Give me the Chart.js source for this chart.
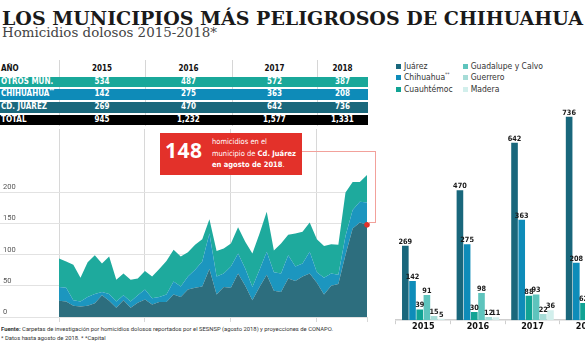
<!DOCTYPE html>
<html lang="es">
<head>
<meta charset="utf-8">
<title>Los municipios más peligrosos de Chihuahua</title>
<script src="https://cdn.jsdelivr.net/npm/chart.js@4.4.1/dist/chart.umd.min.js"></script>
<style>
  html, body { margin: 0; padding: 0; background: #fff; }
  body { width: 585px; height: 343px; overflow: hidden; position: relative; font-family: Roboto, sans-serif; }
  .abs { position: absolute; white-space: nowrap; }
  canvas { display: block; }
  #titulo { left: 2px; top: 9.5px; font: bold 18.3px/18.3px "DejaVu Serif", serif; color: #1a1a1a; transform-origin: 0 0; }
  #subtitulo { left: 2px; top: 26.7px; font: 12.5px/12.5px "DejaVu Serif", serif; color: #444; transform-origin: 0 0; }
  .celda { position: absolute; white-space: nowrap; font-weight: bold; font-size: 8px; }
  .leyenda { position: absolute; white-space: nowrap; font-size: 8.5px; line-height: 11px; color: #333; }
  .leyenda i { display: inline-block; width: 5px; height: 5px; margin-right: 3px; vertical-align: 0px; }
  #nota { left: 160px; top: 133px; width: 142px; height: 42px; background: #e3312a; }
  #nota148 { left: 5px; top: 7px; font: bold 21px/21px "Open Sans", sans-serif; color: #fff; letter-spacing: 0.5px; }
  #notaTexto { left: 52px; top: 3px; font-size: 7.5px; line-height: 11.5px; color: #fff; }
  .conector { position: absolute; border-color: #f2a19b; border-style: solid; border-width: 0; }
  #fuente { left: 1px; top: 323.5px; font-size: 6px; line-height: 9.6px; color: #333; transform-origin: 0 0; }
  sup { font-size: 60%; line-height: 0; }
</style>
</head>
<body>
<div id="titulo" class="abs">LOS MUNICIPIOS MÁS PELIGROSOS DE CHIHUAHUA</div>
<div id="subtitulo" class="abs">Homicidios dolosos 2015-2018*</div>
<div id="tabla"></div>

<div class="abs" style="left:0;top:125px"><canvas id="areas" width="372" height="197"></canvas></div>
<div class="abs" style="left:380px;top:95px"><canvas id="barras" width="240" height="234"></canvas></div>
<div id="leyenda"></div>

<div class="conector" style="left:302px;top:151px;width:74px;border-top-width:1px"></div>
<div class="conector" style="left:375px;top:151px;height:71px;border-left-width:1px"></div>
<div class="conector" style="left:368px;top:222px;width:8px;border-top-width:1px"></div>

<div id="nota" class="abs">
  <div id="nota148" class="abs">148</div>
  <div id="notaTexto" class="abs">homicidios en el<br>municipio de <b>Cd. Juárez</b><br><b>en agosto de 2018</b>.</div>
</div>

<div id="fuente" class="abs"><b>Fuente:</b> Carpetas de investigación por homicidios dolosos reportados por el SESNSP (agosto 2018) y proyecciones de CONAPO.<br>* Datos hasta agosto de 2018. * *Capital</div>

<script>
// Datos
const anios = ['2015', '2016', '2017', '2018'];
const mesesCortos = ['ene', 'feb', 'mar', 'abr', 'may', 'jun', 'jul', 'ago', 'sep', 'oct', 'nov', 'dic'];

const juarezMensual = [
  26, 25, 18, 17, 18, 22, 35, 26, 15, 27, 15, 23,
  28, 20, 24, 24, 36, 32, 44, 47, 49, 77, 36, 48,
  47, 70, 50, 27, 48, 68, 42, 40, 62, 58, 65, 70,
  55, 36, 50, 53, 100, 142, 152, 148
];
const chihuahuaMensual = [
  22, 22, 9, 8, 14, 15, 5, 11, 10, 8, 10, 12,
  16, 10, 8, 12, 21, 17, 21, 29, 40, 57, 29, 22,
  34, 32, 28, 21, 28, 37, 30, 30, 37, 23, 21, 35,
  17, 27, 20, 15, 30, 30, 33, 36
];
const otrosMensual = [
  46, 42, 57, 38, 56, 62, 46, 60, 35, 35, 35, 27,
  30, 35, 45, 54, 51, 48, 39, 40, 36, 23, 41, 40,
  37, 42, 43, 54, 58, 64, 35, 48, 33, 53, 51, 47,
  53, 51, 47, 48, 70, 45, 32, 44
];
const ticksAreas = [0, 50, 100, 150, 200];

// tabla anual
const otrosAnual = [534, 487, 572, 387];
const chihuahuaAnual = [142, 275, 363, 208];
const juarezAnual = [269, 470, 642, 736];
const totalAnual = [945, 1232, 1577, 1331];

// barras por municipio
const municipios = ['Juárez', 'Chihuahua**', 'Cuauhtémoc', 'Guadalupe y Calvo', 'Guerrero', 'Madera'];
const cuauhtemocAnual = [39, 30, 88, 62];
const guadalupeAnual = [91, 98, 93, 45];
const guerreroAnual = [15, 12, 22, 12];
const maderaAnual = [5, 11, 36, 18];

const COND = '"Liberation Sans Narrow", "DejaVu Sans Condensed", "Roboto Condensed", "Arial Narrow", sans-serif';
const coloresBarras = ['#19677c', '#0e8cb9', '#11a394', '#5ec4bd', '#a6dcd7', '#d2efec'];

// Ajuste de anchos de textos
function ajustarAncho(el, ancho) {
  const w = el.getBoundingClientRect().width;
  el.style.transform = 'scaleX(' + (ancho / w) + ')';
}
ajustarAncho(document.getElementById('titulo'), 581);
ajustarAncho(document.getElementById('subtitulo'), 215);
document.getElementById('notaTexto').style.fontFamily = COND;

// Tabla
const tabla = document.getElementById('tabla');
const bordes = [0, 59, 145, 232, 317, 368];
function celda(html, x, y, w, h, estilo) {
  const d = document.createElement('div');
  d.className = 'celda';
  d.innerHTML = html;
  Object.assign(d.style, { left: x + 'px', top: y + 'px', width: w + 'px', height: h + 'px', lineHeight: h + 'px', fontFamily: COND }, estilo);
  tabla.appendChild(d);
  return d;
}
celda('AÑO', 1, 61, 58, 15, { color: '#111' });
anios.forEach((a, i) => {
  celda(a, bordes[i + 1], 61, bordes[i + 2] - bordes[i + 1], 15, { color: '#111', textAlign: 'center' });
});
for (let i = 1; i <= 4; i++) {
  const linea = document.createElement('div');
  Object.assign(linea.style, { position: 'absolute', left: bordes[i] + 'px', top: '60px', width: '1px', height: '66px', background: '#d6d6d6' });
  tabla.appendChild(linea);
}
const filas = [
  { nombre: 'OTROS MUN.', valores: otrosAnual, color: '#19a89a' },
  { nombre: 'CHIHUAHUA<sup>**</sup>', valores: chihuahuaAnual, color: '#0e8bb8' },
  { nombre: 'CD. JUÁREZ', valores: juarezAnual, color: '#1a687c' },
  { nombre: 'TOTAL', valores: totalAnual, color: '#000' }
];
filas.forEach((f, r) => {
  const y = 76.5 + r * 12.8;
  celda('', 0, y, 368, 10.5, { background: f.color });
  celda(f.nombre, 1, y, 58, 10.5, { color: '#fff' });
  f.valores.forEach((v, i) => {
    celda(v.toLocaleString('en-US'), bordes[i + 1], y, bordes[i + 2] - bordes[i + 1], 10.5, { color: '#fff', textAlign: 'center' });
  });
});

// Leyenda
const leyenda = document.getElementById('leyenda');
municipios.forEach((m, i) => {
  const d = document.createElement('div');
  d.className = 'leyenda';
  d.style.fontFamily = COND;
  d.style.left = (i < 3 ? 396 : 462.7) + 'px';
  d.style.top = (60.5 + (i % 3) * 11.6) + 'px';
  d.innerHTML = '<i style="background:' + coloresBarras[i] + '"></i>' + m.replace('**', '<sup>**</sup>');
  leyenda.appendChild(d);
});

// Grafico de areas
const meses = anios.flatMap(a => mesesCortos.map(m => m + ' ' + a)).slice(0, juarezMensual.length);
const transparente = 'rgba(0,0,0,0)';
const colorRejilla = c => (c.index % 12 === 0 ? '#d8d8d8' : transparente);

new Chart(document.getElementById('areas'), {
  type: 'line',
  data: {
    labels: meses,
    datasets: [
      {
        label: 'Cd. Juárez', data: juarezMensual, fill: 'origin', clip: false,
        backgroundColor: '#2d6e7e', borderColor: transparente, borderWidth: 0,
        pointRadius: c => (c.dataIndex === juarezMensual.length - 1 ? 2.8 : 0),
        pointBackgroundColor: '#e3312a', pointBorderWidth: 0
      },
      { label: 'Chihuahua', data: chihuahuaMensual, fill: '-1', backgroundColor: '#1c96bf', borderColor: transparente, borderWidth: 0, pointRadius: 0 },
      { label: 'Otros mun.', data: otrosMensual, fill: '-1', backgroundColor: '#1eaa9d', borderColor: transparente, borderWidth: 0, pointRadius: 0 }
    ]
  },
  options: {
    responsive: false,
    animation: false,
    layout: { padding: { left: 3, right: 5, top: 0, bottom: 0 } },
    elements: { line: { tension: 0 } },
    plugins: { legend: { display: false }, tooltip: { enabled: false } },
    scales: {
      x: {
        offset: false,
        border: { display: false },
        ticks: { display: false },
        grid: {
          color: colorRejilla,
          tickColor: c => (c.index % 12 === 0 || c.index === juarezMensual.length - 1 ? '#d8d8d8' : transparente),
          tickLength: 5
        }
      },
      y: {
        stacked: true,
        min: 0,
        max: 302,
        afterBuildTicks: ax => { ax.ticks = ticksAreas.map(v => ({ value: v })); },
        afterFit: ax => { ax.width = 56; ax.paddingTop = 0; ax.paddingBottom = 0; },
        border: { display: false },
        grid: { color: '#e2e2e2', tickLength: 59 },
        ticks: { crossAlign: 'far', labelOffset: -5, padding: 0, color: '#555', font: { family: 'Roboto', size: 7.5 } }
      }
    }
  }
});

// Grafico de barras
const etiquetasBarras = {
  id: 'etiquetasBarras',
  afterDatasetsDraw(chart) {
    const ctx = chart.ctx;
    ctx.save();
    ctx.font = 'bold 7.3px ' + COND;
    ctx.fillStyle = '#1a1a1a';
    ctx.textAlign = 'center';
    ctx.textBaseline = 'alphabetic';
    chart.data.datasets.forEach((ds, i) => {
      chart.getDatasetMeta(i).data.forEach((bar, j) => {
        ctx.fillText(ds.data[j], bar.x, bar.y - 2);
      });
    });
    ctx.restore();
  }
};

const seriesBarras = [juarezAnual, chihuahuaAnual, cuauhtemocAnual, guadalupeAnual, guerreroAnual, maderaAnual];
new Chart(document.getElementById('barras'), {
  type: 'bar',
  data: {
    labels: anios,
    datasets: seriesBarras.map((serie, i) => ({
      label: municipios[i],
      data: serie,
      backgroundColor: coloresBarras[i],
      borderWidth: 0,
      categoryPercentage: 0.79,
      barPercentage: 0.92
    }))
  },
  options: {
    responsive: false,
    animation: false,
    layout: { padding: { left: 16, right: 5.6, top: 4, bottom: 0 } },
    plugins: { legend: { display: false }, tooltip: { enabled: false } },
    scales: {
      x: {
        border: { display: true, color: '#cfcfcf', width: 1.5 },
        grid: { drawOnChartArea: false, tickLength: 4, color: '#cfcfcf', offset: true },
        ticks: { color: '#111', padding: -3, font: { family: COND, weight: 'bold', size: 9 } }
      },
      y: { display: false, min: 0, max: 800 }
    }
  },
  plugins: [etiquetasBarras]
});

ajustarAncho(document.getElementById('fuente'), 332);
</script>
</body>
</html>
